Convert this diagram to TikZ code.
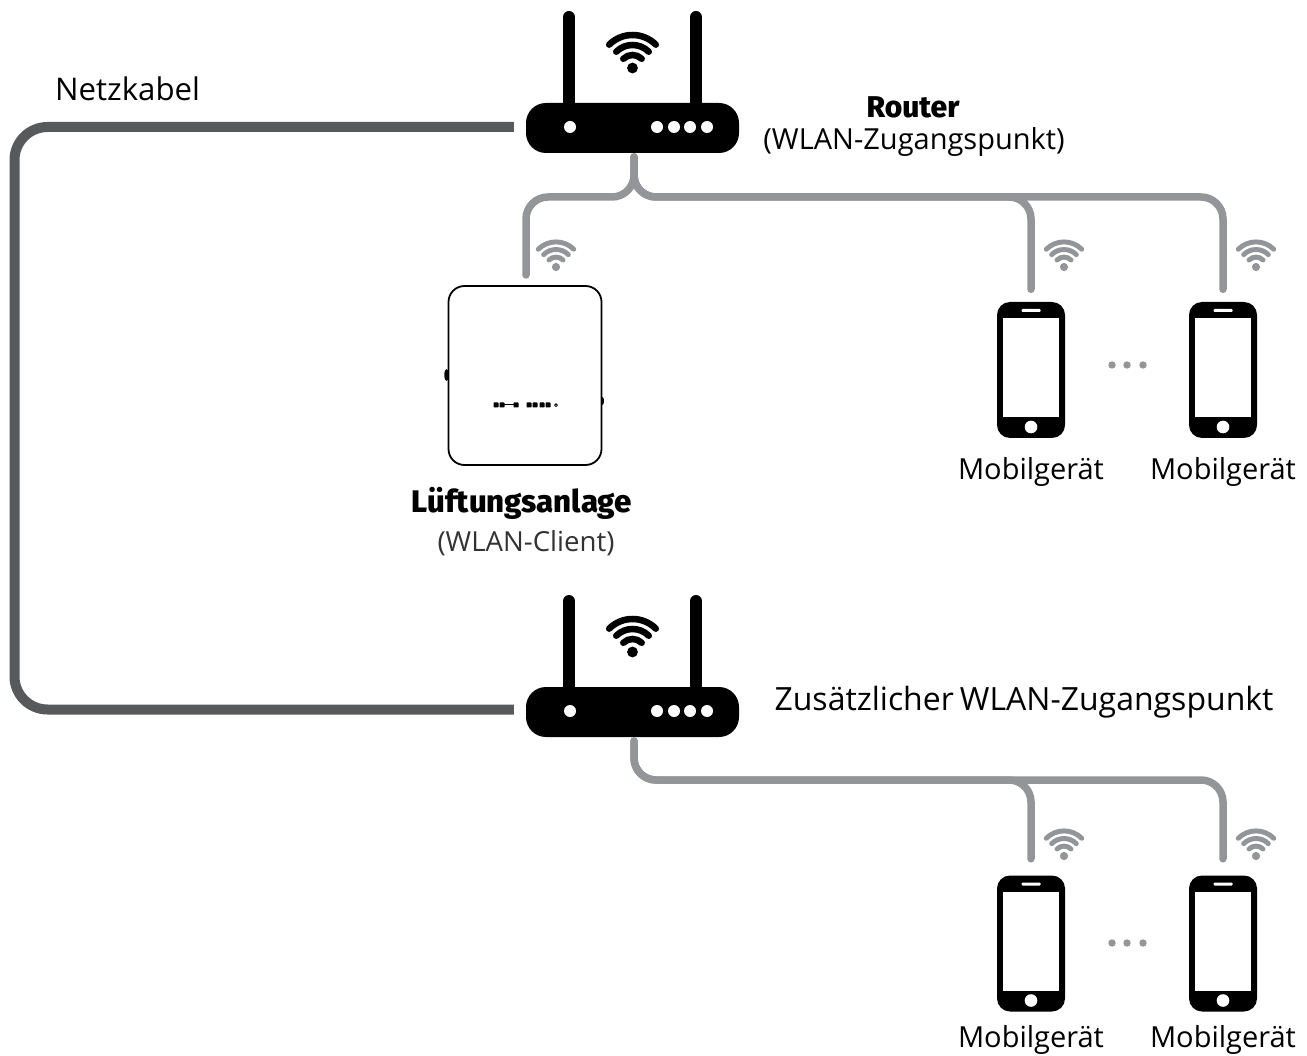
\documentclass[tikz,border=0pt]{standalone}
\usepackage{fontspec}
\setmainfont{Open Sans}
\newfontfamily\headfont{Fira Sans}[BoldFont={Fira Sans ExtraBold}]
\usetikzlibrary{calc}
\definecolor{wgrey}{HTML}{939598}
\definecolor{cablegrey}{HTML}{58595B}
\tikzset{
  lbl/.style={font=\fontsize{29}{32}\selectfont,inner sep=0pt,text=black,anchor=base},
  boldlbl/.style={font=\headfont\bfseries\fontsize{30}{32}\selectfont,inner sep=0pt,text=black,anchor=base},
  routerbody/.style={fill=black,rounded corners=20pt,minimum width=213pt,minimum height=50pt,inner sep=0pt},
  antenna/.style={line width=12pt,line cap=round,draw=black},
  phonebody/.style={fill=black,rounded corners=13pt,minimum width=68pt,minimum height=136pt,inner sep=0pt},
  unitbody/.style={draw=black,line width=1.8pt,fill=white,rounded corners=16pt,minimum width=153pt,minimum height=179pt,inner sep=0pt},
  wifiline/.style={draw=wgrey,line width=7.5pt,line cap=round,rounded corners=22pt},
  cableline/.style={draw=cablegrey,line width=10pt,rounded corners=33pt},
}
\newcommand{\wifisym}[4]{% x, y of dot, scale, colour
  \begin{scope}[shift={(#1,#2)},x=1pt,y=1pt,scale=#3]
    \fill[#4] (0,0) circle[radius=5.4pt];
    \foreach \rr in {13,23,33}
      \draw[#4,line width=#3*6.5pt,line cap=round] (45:\rr) arc[start angle=45,end angle=135,radius=\rr pt];
  \end{scope}}
\newcommand{\router}[2]{% name, y offset
  \draw[antenna] (569,17+#2) -- (569,110+#2);
  \draw[antenna] (696,17+#2) -- (696,110+#2);
  \node[routerbody] (#1) at (632.5,128+#2) {};
  \fill[white] (570,127+#2) circle[radius=6pt];
  \foreach \dx in {657,674,690,707}
    \fill[white] (\dx,127+#2) circle[radius=6pt];
  \wifisym{632.5}{68+#2}{1}{black}
}
\newcommand{\phone}[3]{% name, centre x, centre y
  \node[phonebody] (#1) at (#2,#3) {};
  \fill[white] (#2-28,#3-52) rectangle (#2+28,#3+47);
  \fill[white,rounded corners=1pt] (#2-9.5,#3-61) rectangle (#2+9.5,#3-58);
  \fill[white] (#2,#3+57) circle[radius=6.3pt];
}
\begin{document}
\begin{tikzpicture}[x=1pt,y=-1pt]
\useasboundingbox (0,0) rectangle (1307,1056);
% routers
\router{rone}{0}
\router{rtwo}{584}
% ventilation unit
\node[unitbody] (unit) at (525,375.5) {};
\fill[black] (446.5,375) ellipse[x radius=2.2pt,y radius=6pt];
\fill[black] (602.5,401) ellipse[x radius=1.5pt,y radius=4pt];
\draw[black,line width=1pt] (502,405) -- (514,405);
\foreach \lx in {496,502,516,529,535,542,548}
  \fill[black,rounded corners=.6pt] (\lx-2.5,402.5) rectangle (\lx+2.5,407.5);
\draw[black,line width=.8pt] (556,405.2) circle[radius=1.4pt];
% phones
\phone{pa}{1031}{370}
\phone{pb}{1223}{370}
\phone{pc}{1031}{943.5}
\phone{pd}{1223}{943.5}
% cable
\coordinate (cabletl) at (14.5,127);
\coordinate (cablebl) at (14.5,709.5);
\draw[cableline] ([xshift=-12pt]rone.west |- 0,127) -- (cabletl) -- (cablebl) -- ([xshift=-12pt]rtwo.west |- 0,709.5);
% wireless links
\coordinate (oneout) at (634,157);
\coordinate (twoout) at (634,741);
\coordinate (busone) at (634,197);
\coordinate (bustwo) at (634,780);
\draw[wifiline] (oneout) -- (busone) -| ([yshift=12.5pt]pb.north);
\draw[wifiline] (oneout) -- (busone) -| ([yshift=12.5pt]pa.north);
\draw[wifiline] (oneout) -- (busone) -| (526,275);
\draw[wifiline] (twoout) -- (bustwo) -| ([yshift=16.5pt]pd.north);
\draw[wifiline] (twoout) -- (bustwo) -| ([yshift=16.5pt]pc.north);
% small wifi symbols
\wifisym{556}{267}{.76}{wgrey}
\wifisym{1064}{267}{.76}{wgrey}
\wifisym{1256}{267}{.76}{wgrey}
\wifisym{1064}{856}{.76}{wgrey}
\wifisym{1256}{856}{.76}{wgrey}
% ellipsis dots
\foreach \dx in {1112,1127,1143} {
  \fill[wgrey] (\dx,365) circle[radius=3.7pt];
  \fill[wgrey] (\dx,943) circle[radius=3.7pt];
}
% labels
\node[lbl,anchor=base west,font=\fontsize{31.2}{33}\selectfont] (tcable) at (55,101) {Netzkabel};
\node[boldlbl] (trouter) at (913,118) {Router};
\node[lbl] (trouter2) at (914,149.5) {(WLAN-Zugangspunkt)};
\node[boldlbl,font=\headfont\bfseries\fontsize{31.2}{33}\selectfont] (tunit) at (522,512) {Lüftungsanlage};
\node[lbl,text=black!80,font=\fontsize{27.6}{30}\selectfont] (tunit2) at (526,551) {(WLAN-Client)};
\node[lbl,font=\fontsize{32}{34}\selectfont] (tap) at (1024,710.5) {\spaceskip=6pt Zusätzlicher WLAN-Zugangspunkt};
\node[lbl] (ma) at (1031,479.5) {Mobilgerät};
\node[lbl] (mb) at (1223,479.5) {Mobilgerät};
\node[lbl] (mc) at (1031,1047.5) {Mobilgerät};
\node[lbl] (md) at (1223,1047.5) {Mobilgerät};
\end{tikzpicture}
\end{document}
